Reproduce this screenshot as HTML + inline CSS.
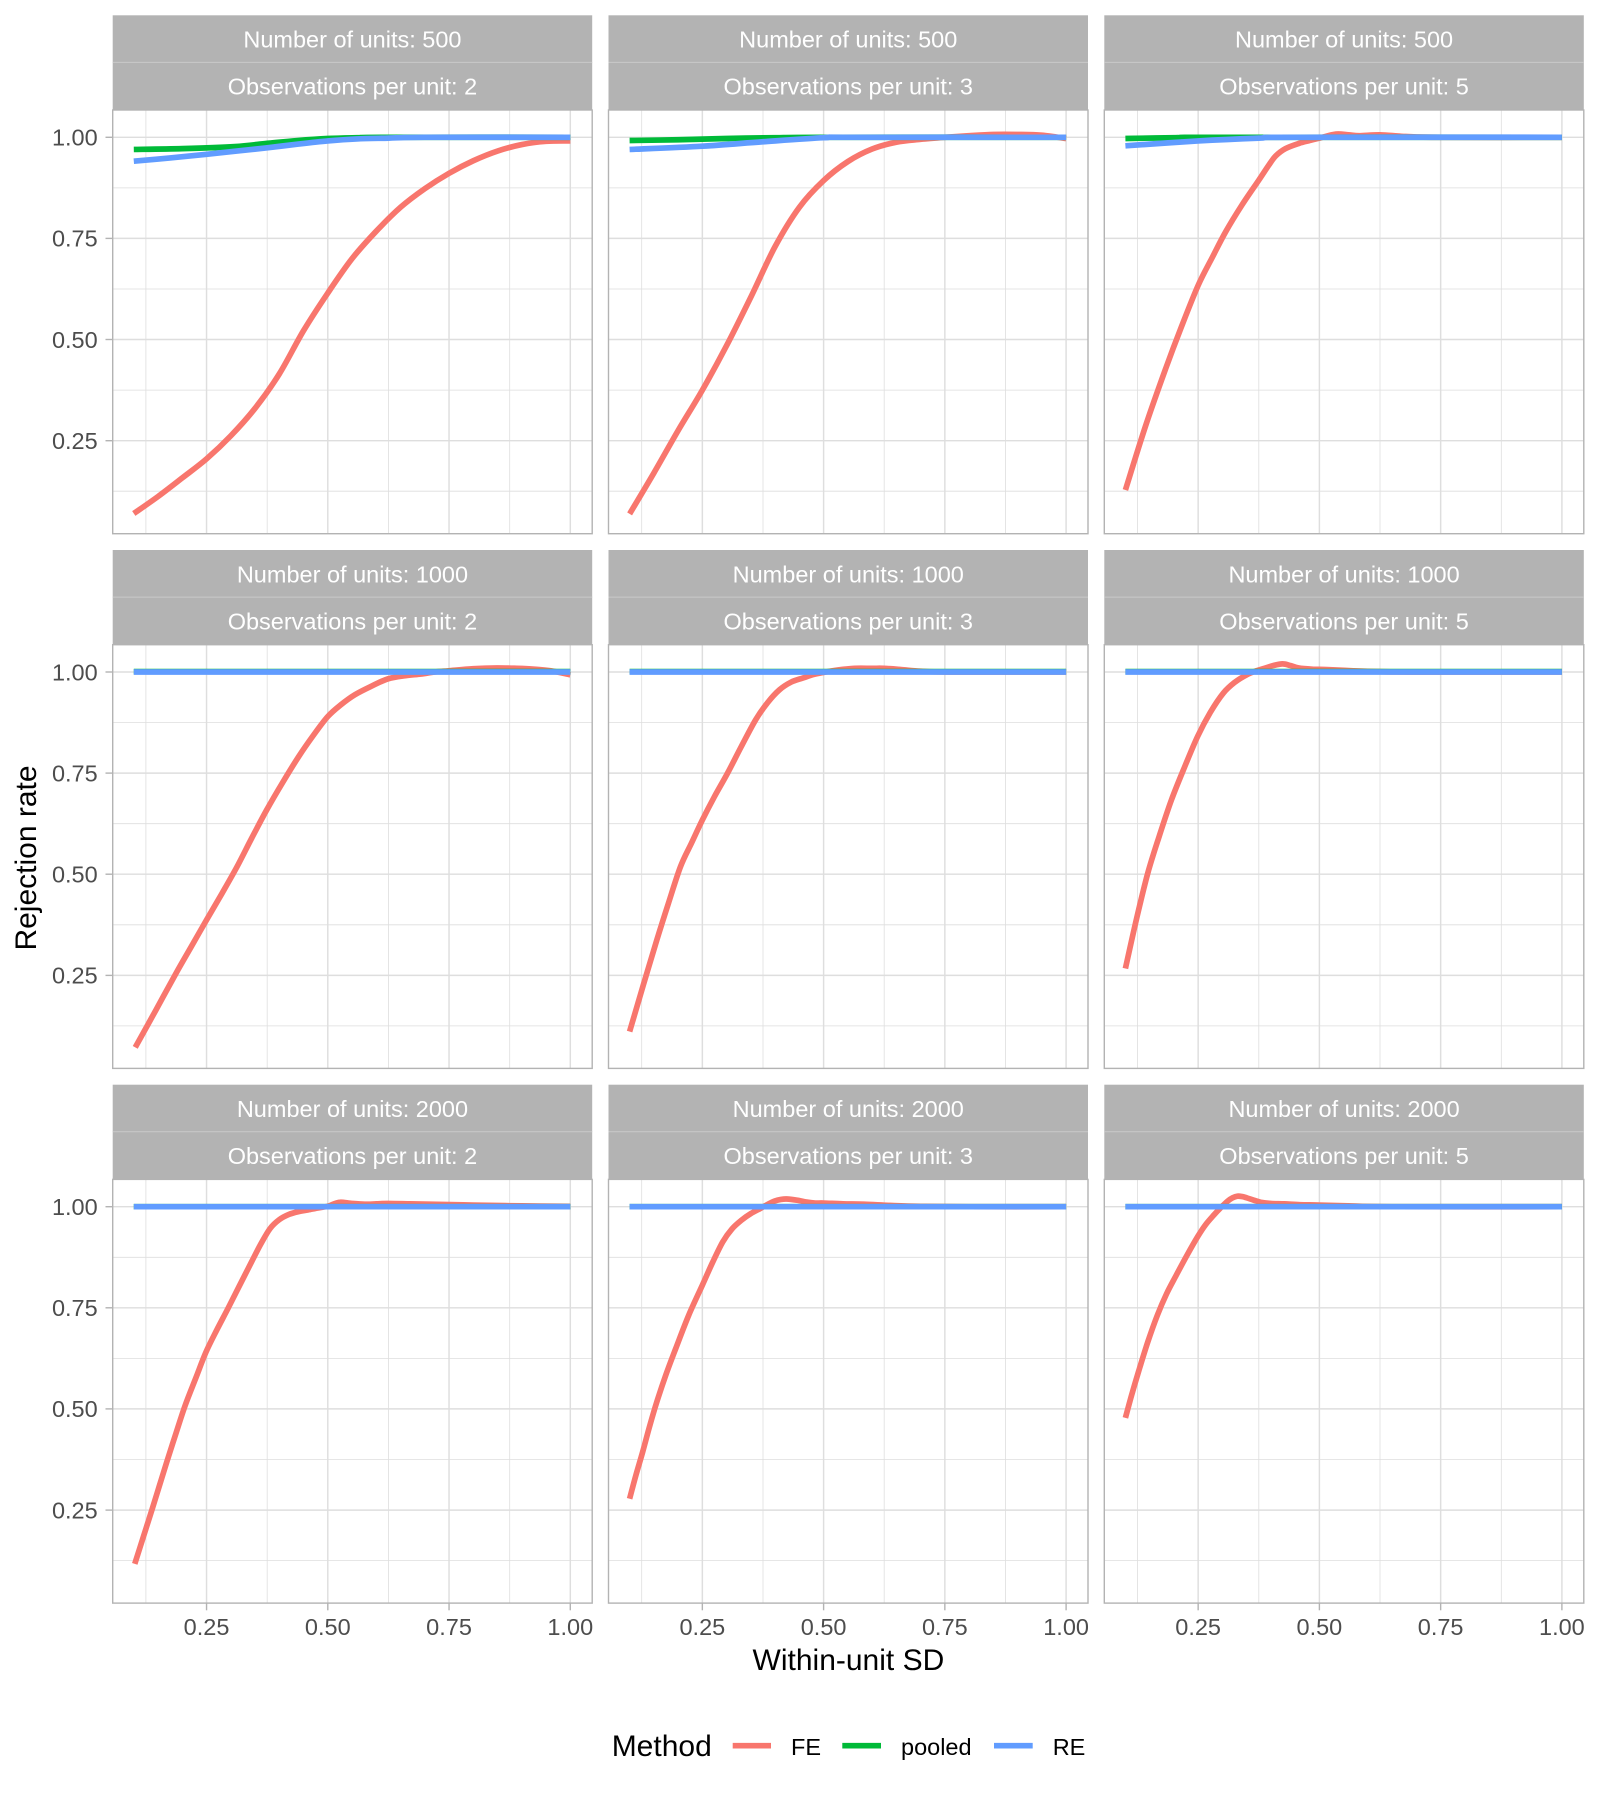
<!DOCTYPE html>
<html>
<head>
<meta charset="utf-8">
<style>
  html, body { margin: 0; padding: 0; background: #ffffff; }
  svg { display: block; }
  text { font-family: "Liberation Sans", Arial, sans-serif; }
  .tick { font-size: 23.5px; fill: #4D4D4D; }
  .strip { font-size: 23.5px; fill: #ffffff; text-anchor: middle; }
  .title { font-size: 30px; fill: #000000; }
  .leg { font-size: 23.5px; fill: #000000; }
  .ln { fill: none; stroke-width: 5.7px; vector-effect: non-scaling-stroke; stroke-linejoin: round; stroke-linecap: butt; }
  .fe { stroke: #F8766D; }
  .po { stroke: #00BA38; }
  .re { stroke: #619CFF; }
  .gmin { stroke: #DEDEDE; stroke-width: 0.8; }
  .gmaj { stroke: #DEDEDE; stroke-width: 1.45; }
  .axt { stroke: #B3B3B3; stroke-width: 1.4; }
</style>
</head>
<body>
<svg id="chart" width="1600" height="1800" viewBox="0 0 1600 1800" xmlns="http://www.w3.org/2000/svg">
  <rect x="0" y="0" width="1600" height="1800" fill="#ffffff"/>
  <defs>
    <g id="grid">
      <rect x="0" y="0" width="479.5" height="423.7" fill="#ffffff"/>
      <g class="gmin">
        <line x1="33.2" y1="0" x2="33.2" y2="423.7"/>
        <line x1="154.5" y1="0" x2="154.5" y2="423.7"/>
        <line x1="275.7" y1="0" x2="275.7" y2="423.7"/>
        <line x1="397.0" y1="0" x2="397.0" y2="423.7"/>
        <line x1="0" y1="77.9" x2="479.5" y2="77.9"/>
        <line x1="0" y1="179.0" x2="479.5" y2="179.0"/>
        <line x1="0" y1="280.1" x2="479.5" y2="280.1"/>
        <line x1="0" y1="381.2" x2="479.5" y2="381.2"/>
      </g>
      <g class="gmaj">
        <line x1="93.85" y1="0" x2="93.85" y2="423.7"/>
        <line x1="215.1" y1="0" x2="215.1" y2="423.7"/>
        <line x1="336.35" y1="0" x2="336.35" y2="423.7"/>
        <line x1="457.6" y1="0" x2="457.6" y2="423.7"/>
        <line x1="0" y1="27.3" x2="479.5" y2="27.3"/>
        <line x1="0" y1="128.4" x2="479.5" y2="128.4"/>
        <line x1="0" y1="229.5" x2="479.5" y2="229.5"/>
        <line x1="0" y1="330.7" x2="479.5" y2="330.7"/>
      </g>
    </g>
    <g id="border">
      <rect x="0" y="0" width="479.5" height="423.7" fill="none" stroke="#B3B3B3" stroke-width="1.4"/>
    </g>
    <g id="strip">
      <rect x="0" y="0" width="479.5" height="94.7" fill="#B3B3B3"/>
      <line x1="0" y1="47.1" x2="479.5" y2="47.1" stroke="#C9C9C9" stroke-width="1"/>
    </g>
  </defs>

  <!-- strips -->
  <use href="#strip" x="112.7" y="15.3"/>
  <use href="#strip" x="608.5" y="15.3"/>
  <use href="#strip" x="1104.3" y="15.3"/>
  <use href="#strip" x="112.7" y="550"/>
  <use href="#strip" x="608.5" y="550"/>
  <use href="#strip" x="1104.3" y="550"/>
  <use href="#strip" x="112.7" y="1084.7"/>
  <use href="#strip" x="608.5" y="1084.7"/>
  <use href="#strip" x="1104.3" y="1084.7"/>

  <!-- strip texts -->
  <text class="strip" x="352.45" y="47.7">Number of units: 500</text>
  <text class="strip" x="352.45" y="94.6">Observations per unit: 2</text>
  <text class="strip" x="848.25" y="47.7">Number of units: 500</text>
  <text class="strip" x="848.25" y="94.6">Observations per unit: 3</text>
  <text class="strip" x="1344.05" y="47.7">Number of units: 500</text>
  <text class="strip" x="1344.05" y="94.6">Observations per unit: 5</text>

  <text class="strip" x="352.45" y="582.4">Number of units: 1000</text>
  <text class="strip" x="352.45" y="629.3">Observations per unit: 2</text>
  <text class="strip" x="848.25" y="582.4">Number of units: 1000</text>
  <text class="strip" x="848.25" y="629.3">Observations per unit: 3</text>
  <text class="strip" x="1344.05" y="582.4">Number of units: 1000</text>
  <text class="strip" x="1344.05" y="629.3">Observations per unit: 5</text>

  <text class="strip" x="352.45" y="1117.1">Number of units: 2000</text>
  <text class="strip" x="352.45" y="1164.0">Observations per unit: 2</text>
  <text class="strip" x="848.25" y="1117.1">Number of units: 2000</text>
  <text class="strip" x="848.25" y="1164.0">Observations per unit: 3</text>
  <text class="strip" x="1344.05" y="1117.1">Number of units: 2000</text>
  <text class="strip" x="1344.05" y="1164.0">Observations per unit: 5</text>

  <!-- panel backgrounds + grids -->
  <use href="#grid" x="112.7" y="110"/>
  <use href="#grid" x="608.5" y="110"/>
  <use href="#grid" x="1104.3" y="110"/>
  <use href="#grid" x="112.7" y="644.7"/>
  <use href="#grid" x="608.5" y="644.7"/>
  <use href="#grid" x="1104.3" y="644.7"/>
  <use href="#grid" x="112.7" y="1179.4"/>
  <use href="#grid" x="608.5" y="1179.4"/>
  <use href="#grid" x="1104.3" y="1179.4"/>

  <!-- Row 1, Col 1 -->
  <g transform="translate(85.3,541.8) scale(0.485,-0.4045)">
    <polyline class="ln fe" points="100,70 150,112 200,158 250,205 300,262 350,330 400,415 450,522 500,615 550,700 600,768 650,827 700,873 750,911 800,942 850,966 900,982 950,990 1000,991"/>
    <polyline class="ln po" points="100,970 200,972 308,977 375,985 437,992 500,997 560,999 620,1000 1000,1000"/>
    <polyline class="ln re" points="100,941 175,949 250,958 312,966 375,974 437,983 500,991 560,996 625,998 700,1000 1000,1000"/>
  </g>
  <!-- Row 1, Col 2 -->
  <g transform="translate(581.1,541.8) scale(0.485,-0.4045)">
    <polyline class="ln fe" points="100,69 150,170 200,275 250,375 300,485 350,605 400,730 450,827 500,893 550,940 600,971 650,988 700,995 750,1000 800,1004 850,1007 900,1007 950,1005 1000,997"/>
    <polyline class="ln po" points="100,992 200,994 300,997 400,999 500,1000 1000,1000"/>
    <polyline class="ln re" points="100,970 250,978 375,989 500,999 560,1000 1000,1000"/>
  </g>
  <!-- Row 1, Col 3 -->
  <g transform="translate(1076.9,541.8) scale(0.485,-0.4045)">
    <polyline class="ln fe" points="100,128 142,288 183,428 215,530 250,634 280,705 307,767 340,832 375,894 395,930 410,954 430,972 458,985 480,992 500,998 534,1008 560,1006 582,1004 625,1006 678,1002 750,1000 1000,1000"/>
    <polyline class="ln po" points="100,997 200,999 300,1000 1000,1000"/>
    <polyline class="ln re" points="100,979 250,991 375,998 450,1000 1000,1000"/>
  </g>

  <!-- Row 2, Col 1 -->
  <g transform="translate(85.3,1076.5) scale(0.485,-0.4045)">
    <polyline class="ln fe" points="103,72 145,163 187,255 218,320 250,387 282,453 313,519 343,589 374,659 407,727 440,791 470,843 500,890 528,920 556,944 590,965 624,983 660,991 692,995 720,1000 749,1003 800,1008 848,1010 890,1009 926,1007 960,1003 1000,993"/>
    <polyline class="ln po" points="100,1001 1000,1001"/>
    <polyline class="ln re" points="100,1000 1000,1000"/>
  </g>
  <!-- Row 2, Col 2 -->
  <g transform="translate(581.1,1076.5) scale(0.485,-0.4045)">
    <polyline class="ln fe" points="100,111 128,225 156,337 180,428 205,519 228,578 250,634 275,692 302,750 330,815 360,882 385,925 409,956 433,975 457,985 480,994 500,999 530,1005 564,1009 600,1009 624,1009 660,1006 700,1002 760,1000 1000,1000"/>
    <polyline class="ln po" points="100,1001 1000,1001"/>
    <polyline class="ln re" points="100,1000 1000,1000"/>
  </g>
  <!-- Row 2, Col 3 -->
  <g transform="translate(1076.9,1076.5) scale(0.485,-0.4045)">
    <polyline class="ln fe" points="100,267 123,390 146,502 170,595 195,684 222,765 249,841 275,900 302,948 326,975 350,993 370,1003 389,1010 405,1016 424,1020 440,1016 457,1010 485,1007 516,1006 570,1003 624,1001 700,1000 1000,1000"/>
    <polyline class="ln po" points="100,1001 1000,1001"/>
    <polyline class="ln re" points="100,1000 1000,1000"/>
  </g>

  <!-- Row 3, Col 1 -->
  <g transform="translate(85.3,1611.2) scale(0.485,-0.4045)">
    <polyline class="ln fe" points="102,117 120,185 138,253 153,311 168,369 187,440 206,509 228,577 249,641 271,695 294,748 318,805 343,864 362,908 381,946 400,968 420,981 440,988 459,992 480,997 500,1001 515,1008 527,1011 550,1008 576,1006 600,1007 624,1008 670,1007 712,1006 800,1004 900,1002 1000,1001"/>
    <polyline class="ln po" points="100,1000 1000,1000"/>
    <polyline class="ln re" points="100,1000 1000,1000"/>
  </g>
  <!-- Row 3, Col 2 -->
  <g transform="translate(581.1,1611.2) scale(0.485,-0.4045)">
    <polyline class="ln fe" points="100,278 113,336 127,394 141,456 156,517 175,585 195,649 222,732 250,806 271,862 292,913 311,945 331,967 350,983 370,996 385,1006 399,1014 412,1018 424,1019 445,1016 467,1011 483,1009 500,1009 540,1007 584,1006 640,1003 700,1001 800,1000 1000,1000"/>
    <polyline class="ln po" points="100,1000 1000,1000"/>
    <polyline class="ln re" points="100,1000 1000,1000"/>
  </g>
  <!-- Row 3, Col 3 -->
  <g transform="translate(1076.9,1611.2) scale(0.485,-0.4045)">
    <polyline class="ln fe" points="100,478 113,535 127,592 146,665 166,732 185,785 205,831 227,880 249,926 265,955 282,979 297,998 311,1014 321,1022 331,1026 341,1025 350,1022 365,1016 379,1011 400,1008 428,1007 460,1005 500,1004 560,1002 650,1000 1000,1000"/>
    <polyline class="ln po" points="100,1000 1000,1000"/>
    <polyline class="ln re" points="100,1000 1000,1000"/>
  </g>

  <!-- panel borders -->
  <use href="#border" x="112.7" y="110"/>
  <use href="#border" x="608.5" y="110"/>
  <use href="#border" x="1104.3" y="110"/>
  <use href="#border" x="112.7" y="644.7"/>
  <use href="#border" x="608.5" y="644.7"/>
  <use href="#border" x="1104.3" y="644.7"/>
  <use href="#border" x="112.7" y="1179.4"/>
  <use href="#border" x="608.5" y="1179.4"/>
  <use href="#border" x="1104.3" y="1179.4"/>

  <!-- axis ticks -->
  <g class="axt">
    <line x1="105.5" y1="137.3" x2="112.7" y2="137.3"/>
    <line x1="105.5" y1="238.4" x2="112.7" y2="238.4"/>
    <line x1="105.5" y1="339.5" x2="112.7" y2="339.5"/>
    <line x1="105.5" y1="440.7" x2="112.7" y2="440.7"/>
    <line x1="105.5" y1="672.0" x2="112.7" y2="672.0"/>
    <line x1="105.5" y1="773.1" x2="112.7" y2="773.1"/>
    <line x1="105.5" y1="874.2" x2="112.7" y2="874.2"/>
    <line x1="105.5" y1="975.4" x2="112.7" y2="975.4"/>
    <line x1="105.5" y1="1206.7" x2="112.7" y2="1206.7"/>
    <line x1="105.5" y1="1307.8" x2="112.7" y2="1307.8"/>
    <line x1="105.5" y1="1408.9" x2="112.7" y2="1408.9"/>
    <line x1="105.5" y1="1510.1" x2="112.7" y2="1510.1"/>
    <line x1="206.55" y1="1603.1" x2="206.55" y2="1610.3"/>
    <line x1="327.8" y1="1603.1" x2="327.8" y2="1610.3"/>
    <line x1="449.05" y1="1603.1" x2="449.05" y2="1610.3"/>
    <line x1="570.3" y1="1603.1" x2="570.3" y2="1610.3"/>
    <line x1="702.35" y1="1603.1" x2="702.35" y2="1610.3"/>
    <line x1="823.6" y1="1603.1" x2="823.6" y2="1610.3"/>
    <line x1="944.85" y1="1603.1" x2="944.85" y2="1610.3"/>
    <line x1="1066.1" y1="1603.1" x2="1066.1" y2="1610.3"/>
    <line x1="1198.15" y1="1603.1" x2="1198.15" y2="1610.3"/>
    <line x1="1319.4" y1="1603.1" x2="1319.4" y2="1610.3"/>
    <line x1="1440.65" y1="1603.1" x2="1440.65" y2="1610.3"/>
    <line x1="1561.9" y1="1603.1" x2="1561.9" y2="1610.3"/>
  </g>

  <!-- y tick labels -->
  <g class="tick" text-anchor="end">
    <text x="97.7" y="145.6">1.00</text>
    <text x="97.7" y="246.7">0.75</text>
    <text x="97.7" y="347.8">0.50</text>
    <text x="97.7" y="449.0">0.25</text>
    <text x="97.7" y="680.3">1.00</text>
    <text x="97.7" y="781.4">0.75</text>
    <text x="97.7" y="882.5">0.50</text>
    <text x="97.7" y="983.7">0.25</text>
    <text x="97.7" y="1215.0">1.00</text>
    <text x="97.7" y="1316.1">0.75</text>
    <text x="97.7" y="1417.2">0.50</text>
    <text x="97.7" y="1518.4">0.25</text>
  </g>

  <!-- x tick labels -->
  <g class="tick" text-anchor="middle">
    <text x="206.55" y="1635">0.25</text>
    <text x="327.8" y="1635">0.50</text>
    <text x="449.05" y="1635">0.75</text>
    <text x="570.3" y="1635">1.00</text>
    <text x="702.35" y="1635">0.25</text>
    <text x="823.6" y="1635">0.50</text>
    <text x="944.85" y="1635">0.75</text>
    <text x="1066.1" y="1635">1.00</text>
    <text x="1198.15" y="1635">0.25</text>
    <text x="1319.4" y="1635">0.50</text>
    <text x="1440.65" y="1635">0.75</text>
    <text x="1561.9" y="1635">1.00</text>
  </g>

  <!-- axis titles -->
  <text class="title" x="848.4" y="1670" text-anchor="middle">Within-unit SD</text>
  <text class="title" transform="translate(36,858) rotate(-90)" text-anchor="middle">Rejection rate</text>

  <!-- legend -->
  <text class="title" x="611.7" y="1756">Method</text>
  <line x1="732.7" y1="1745.7" x2="771" y2="1745.7" stroke="#F8766D" stroke-width="5.7"/>
  <text class="leg" x="791" y="1755">FE</text>
  <line x1="842.3" y1="1745.7" x2="881" y2="1745.7" stroke="#00BA38" stroke-width="5.7"/>
  <text class="leg" x="901" y="1755">pooled</text>
  <line x1="994" y1="1745.7" x2="1032.7" y2="1745.7" stroke="#619CFF" stroke-width="5.7"/>
  <text class="leg" x="1052.7" y="1755">RE</text>
</svg>
<script>
(function(){
  var NS = "http://www.w3.org/2000/svg";
  var pls = document.querySelectorAll("polyline.ln");
  for (var k = 0; k < pls.length; k++) {
    var pl = pls[k];
    var raw = pl.getAttribute("points").trim().split(/\s+/);
    var p = raw.map(function(s){ var a = s.split(","); return [parseFloat(a[0]), parseFloat(a[1])]; });
    if (p.length < 3) continue;
    var d = "M" + p[0][0] + "," + p[0][1];
    for (var i = 0; i < p.length - 1; i++) {
      var p0 = p[i > 0 ? i - 1 : i], p1 = p[i], p2 = p[i + 1], p3 = p[i + 2 < p.length ? i + 2 : i + 1];
      var c1x = p1[0] + (p2[0] - p0[0]) / 6, c1y = p1[1] + (p2[1] - p0[1]) / 6;
      var c2x = p2[0] - (p3[0] - p1[0]) / 6, c2y = p2[1] - (p3[1] - p1[1]) / 6;
      d += " C" + c1x.toFixed(2) + "," + c1y.toFixed(2) + " " + c2x.toFixed(2) + "," + c2y.toFixed(2) + " " + p2[0] + "," + p2[1];
    }
    var path = document.createElementNS(NS, "path");
    path.setAttribute("d", d);
    path.setAttribute("class", pl.getAttribute("class"));
    pl.parentNode.replaceChild(path, pl);
  }
})();
</script>
</body>
</html>
